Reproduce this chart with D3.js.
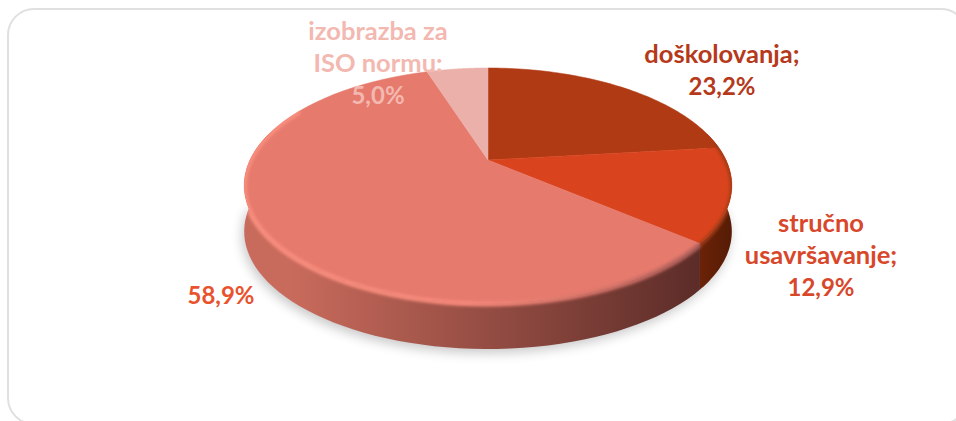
<!DOCTYPE html>
<html><head><meta charset="utf-8">
<script src="https://cdn.jsdelivr.net/npm/d3@7"></script>
<style>html,body{margin:0;padding:0;background:#fff;overflow:hidden}svg{display:block}text{font-family:Lato,"Open Sans",sans-serif;font-weight:700}</style>
</head><body><svg id="c" width="956" height="421"></svg>
<script>
const categories=["doškolovanja","stručno usavršavanje","neformalno","izobrazba za ISO normu"];
const values=[23.2,12.9,58.9,5.0];
const topColors=["#B03A14","#D9441E","#E67A6D","#EBB0AA"];
const sideColors=[["#7a2408","#5a1d06"],["#6b2208","#551c05"],["#c96b5c","#5c2c28"],["#c9928c","#b0807a"]];
const labelColors=["#B5391A","#D9472B","#E8532E","#F3B8B0"];
const labelLines=[["doškolovanja;","23,2%"],["stručno","usavršavanje;","12,9%"],["58,9%"],["izobrazba za","ISO normu:","5,0%"]];
const labelPos=[[722,63],[821,232],[221,304],[378,40]];

const W=956,H=421,cx=488,cy=160,B=238,A=112,k=-0.217,depth=46;
const svg=d3.select("#c");
const defs=svg.append("defs");
const blur=(id,s)=>defs.append("filter").attr("id",id).attr("x","-20%").attr("y","-20%").attr("width","140%").attr("height","140%").append("feGaussianBlur").attr("stdDeviation",s);
blur("b8",6);blur("b1",1.5);

// projective map of the pie's circle
const P=t=>{const u=Math.sin(t),v=-Math.cos(t),d=1+k*v;return [cx+B*u/d,cy+A*v/d];};
const line=d3.line();
const arcs=d3.pie().sort(null)(values);
const rng=(a,b,dz=0)=>d3.range(0,65).map(i=>{const t=a+(b-a)*i/64,p=P(t);return [p[0],p[1]+dz];});
const whole=rng(0,2*Math.PI);

// frame, running off the right and bottom of the picture
svg.append("rect").attr("x",8).attr("y",9).attr("width",959).attr("height",415).attr("rx",26)
 .attr("fill","#fff").attr("stroke","#e0e0e0").attr("stroke-width",2);

// soft shadow
const lower=rng(Math.PI/2,3*Math.PI/2,depth);
svg.append("path").attr("d",line(lower)+"Z").attr("transform","translate(-2,4)").attr("fill","#000").attr("opacity",.22).attr("filter","url(#b8)");

// side wall
const visible=[Math.PI/2-.25,3*Math.PI/2+.25];
arcs.forEach((a,i)=>{
  const s=Math.max(a.startAngle,visible[0]),e=Math.min(a.endAngle,visible[1]);
  if(e<=s)return;
  const top=rng(s,e),bot=rng(s,e,depth).reverse();
  const id="side"+i,xs=top.map(p=>p[0]);
  const g=defs.append("linearGradient").attr("id",id).attr("gradientUnits","userSpaceOnUse")
    .attr("x1",d3.min(xs)).attr("x2",d3.max(xs)).attr("y1",0).attr("y2",0);
  g.append("stop").attr("offset",0).attr("stop-color",sideColors[i][0]);
  if(i===2)g.append("stop").attr("offset",.1).attr("stop-color",sideColors[i][0]);
  g.append("stop").attr("offset",1).attr("stop-color",sideColors[i][1]);
  svg.append("path").attr("d",line(top.concat(bot))+"Z").attr("fill",`url(#${id})`);
});

// top face
svg.append("g").selectAll("path").data(arcs).join("path")
  .attr("d",a=>line([[cx,cy]].concat(rng(a.startAngle,a.endAngle)))+"Z")
  .attr("fill",(a,i)=>topColors[i]).attr("stroke",(a,i)=>topColors[i]).attr("stroke-width",.5);

// bevel: soft band along the lower edge of the face, kept inside the silhouette
const clip=defs.append("clipPath").attr("id","sil");
clip.append("path").attr("d",line(whole)+"Z");
clip.append("path").attr("d",line(rng(Math.PI/2-.25,3*Math.PI/2+.25).concat(lower.slice().reverse()))+"Z");
const rimGrad=defs.append("linearGradient").attr("id","rimGrad").attr("gradientUnits","userSpaceOnUse")
  .attr("x1",244).attr("x2",700).attr("y1",0).attr("y2",0);
[[0,"#F98E7F"],[.5,"#F7897B"],[.75,"#D9756A"],[1,"#B0605A"]].forEach(([o,c])=>rimGrad.append("stop").attr("offset",o).attr("stop-color",c));
const rim=svg.append("g").attr("clip-path","url(#sil)");
rim.append("path").attr("d",line(rng(arcs[0].startAngle+1.4,arcs[1].endAngle,1))).attr("fill","none")
  .attr("stroke","#A03A12").attr("stroke-width",4).attr("filter","url(#b1)");
rim.append("path").attr("d",line(rng(arcs[2].startAngle,arcs[2].endAngle-.75,1))).attr("fill","none")
  .attr("stroke","url(#rimGrad)").attr("stroke-width",5).attr("filter","url(#b1)");

// labels
labelLines.forEach((ls,i)=>{
  const t=svg.append("text").attr("text-anchor","middle").attr("fill",labelColors[i]);
  ls.forEach((s,j)=>t.append("tspan").attr("x",labelPos[i][0]).attr("y",labelPos[i][1]+j*32)
    .attr("font-size",s.endsWith("%")?24:25.5).text(s));
});
</script></body></html>
